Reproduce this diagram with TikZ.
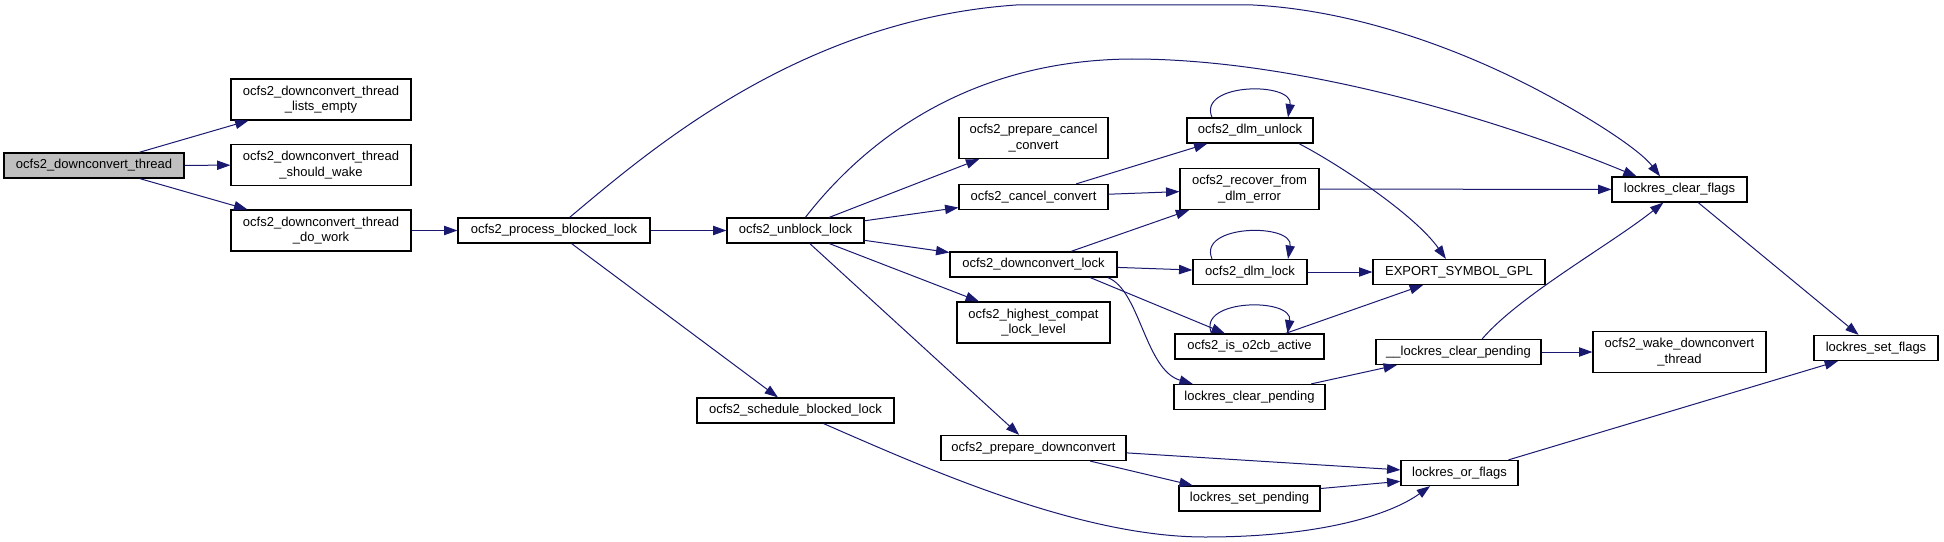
\documentclass[tikz,border=0pt]{standalone}
\usepackage{fontspec}
\setmainfont{Liberation Sans}
\usetikzlibrary{arrows.meta,calc}
\definecolor{edgeblue}{HTML}{191970}
\definecolor{rootgray}{HTML}{BFBFBF}
\begin{document}
\begin{tikzpicture}[x=0.75pt,y=-0.75pt,
  fn/.style={draw=black, line width=0.9pt, fill=white, inner sep=0pt, align=center,
    font=\fontsize{9.75}{11.5}\selectfont, minimum height=18.75pt},
  fn2/.style={fn, minimum height=30.75pt},
  root/.style={fn, fill=rootgray},
  e/.style={draw=edgeblue, line width=0.75pt, -{Triangle[length=10pt,width=7pt]}}]
\useasboundingbox (0,0) rectangle (1944,542);

% nodes
\node[root, minimum width=135pt] (thr) at (94,165.5) {ocfs2\_downconvert\_thread};
\node[fn2, minimum width=135pt] (lists) at (321,99.5) {ocfs2\_downconvert\_thread\\\_lists\_empty};
\node[fn2, minimum width=135pt] (wake) at (321,165) {ocfs2\_downconvert\_thread\\\_should\_wake};
\node[fn2, minimum width=135pt] (dowork) at (321,230.5) {ocfs2\_downconvert\_thread\\\_do\_work};
\node[fn, minimum width=144pt] (pbl) at (554,230.5) {ocfs2\_process\_blocked\_lock};
\node[fn, minimum width=102.75pt] (unblock) at (795.5,230.5) {ocfs2\_unblock\_lock};
\node[fn, minimum width=147.75pt] (sched) at (795.5,410.5) {ocfs2\_schedule\_blocked\_lock};
\node[fn2, minimum width=111.75pt] (prepcancel) at (1033.5,138) {ocfs2\_prepare\_cancel\\\_convert};
\node[fn, minimum width=111.75pt] (cancel) at (1033.5,197) {ocfs2\_cancel\_convert};
\node[fn, minimum width=125.25pt] (dcl) at (1033.5,264.5) {ocfs2\_downconvert\_lock};
\node[fn2, minimum width=114.75pt] (highest) at (1033.5,322.5) {ocfs2\_highest\_compat\\\_lock\_level};
\node[fn, minimum width=138.75pt] (prepdc) at (1033.5,448) {ocfs2\_prepare\_downconvert};
\node[fn, minimum width=94.5pt] (unlock) at (1250,130.5) {ocfs2\_dlm\_unlock};
\node[fn2, minimum width=104.25pt] (recover) at (1249.5,189) {ocfs2\_recover\_from\\\_dlm\_error};
\node[fn, minimum width=85.5pt] (dlmlock) at (1250,272) {ocfs2\_dlm\_lock};
\node[fn, minimum width=111.75pt] (o2cb) at (1249.5,346.5) {ocfs2\_is\_o2cb\_active};
\node[fn, minimum width=113.25pt] (lcp) at (1249.5,397) {lockres\_clear\_pending};
\node[fn, minimum width=105.75pt] (lsp) at (1249.5,498.5) {lockres\_set\_pending};
\node[fn, minimum width=129pt] (export) at (1459,272) {EXPORT\_SYMBOL\_GPL};
\node[fn, minimum width=123.75pt] (ulcp) at (1458.5,352) {\_\_lockres\_clear\_pending};
\node[fn, minimum width=87.75pt] (orflags) at (1459.5,473) {lockres\_or\_flags};
\node[fn, minimum width=101.25pt] (lcf) at (1679.5,189.5) {lockres\_clear\_flags};
\node[fn2, minimum width=129.75pt] (wakedc) at (1679.5,352) {ocfs2\_wake\_downconvert\\\_thread};
\node[fn, minimum width=93pt] (lsf) at (1876,348) {lockres\_set\_flags};

% edges
\draw[e] (thr) -- (lists);
\draw[e] (thr) -- (wake);
\draw[e] (thr) -- (dowork);
\draw[e] (dowork) -- (pbl);
\draw[e] (pbl) -- (unblock);
\draw[e] (pbl.40) .. controls (650,150) and (800,20) .. (1016,5) -- (1253,5)
  .. controls (1350,10) and (1450,45) .. (1530,86)
  .. controls (1590,117) and (1640,150) .. (lcf.146);
\draw[e] (pbl) -- (sched);
\draw[e] (unblock.53) .. controls (850,160) and (950,60) .. (1132,59)
  .. controls (1300,59) and (1500,120) .. (lcf.163);
\draw[e] (unblock) -- (prepcancel);
\draw[e] (unblock) -- (cancel);
\draw[e] (unblock) -- (dcl);
\draw[e] (unblock) -- (highest);
\draw[e] (unblock) -- (prepdc);
\draw[e] (cancel) -- (unlock);
\draw[e] (cancel) -- (recover);
\draw[e] (dcl) -- (recover);
\draw[e] (dcl) -- (dlmlock);
\draw[e] (dcl.-13) -- (o2cb.152);
\draw[e] (dcl.-10) .. controls (1140,290) and (1145,370) .. (lcp.167);
\draw[e] ($(unlock.north)+(-38,0)$) .. controls +(-15,-35) and +(6,-36) .. ($(unlock.north)+(38,0)$);
\draw[e] ($(dlmlock.north)+(-38,0)$) .. controls +(-15,-35) and +(6,-36) .. ($(dlmlock.north)+(38,0)$);
\draw[e] ($(o2cb.north)+(-38,0)$) .. controls +(-15,-35) and +(6,-36) .. ($(o2cb.north)+(38,0)$);
\draw[e] (unlock.-15) .. controls (1340,165) and (1415,215) .. (export.135);
\draw[e] (recover) -- (lcf);
\draw[e] (dlmlock) -- (export);
\draw[e] (o2cb.20) -- (export.200);
\draw[e] (lcp.12) -- (ulcp.192);
\draw[e] (ulcp.29) .. controls (1520,295) and (1610,245) .. (lcf.219);
\draw[e] (ulcp) -- (wakedc);
\draw[e] (lcf.-35) -- (lsf.143);
\draw[e] (sched.-25) .. controls (930,470) and (1080,537) .. (1205,537)
  .. controls (1320,537) and (1390,515) .. (orflags.204);
\draw[e] (prepdc.-3) -- (orflags.177);
\draw[e] (prepdc.-13) -- (lsp.167);
\draw[e] (lsp.8) -- (orflags.188);
\draw[e] (orflags.15) -- (lsf.199);
\end{tikzpicture}
\end{document}
